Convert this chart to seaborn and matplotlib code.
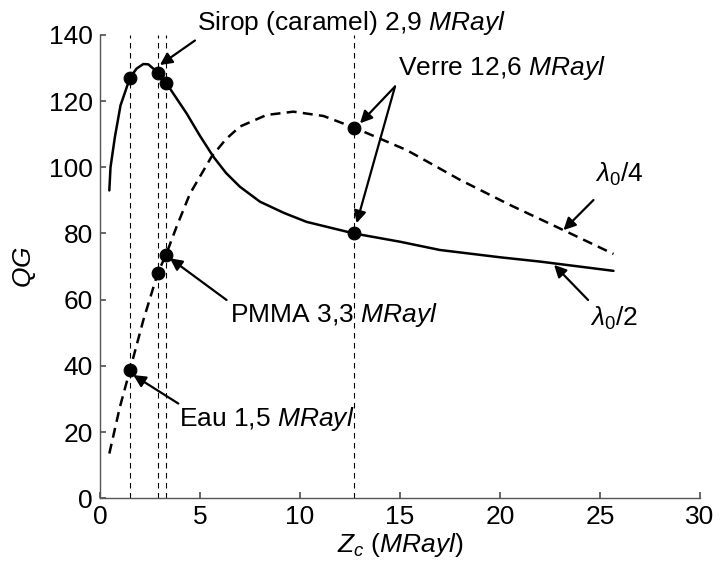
import pandas as pd
import matplotlib
matplotlib.use("Agg")
import matplotlib.pyplot as plt
import seaborn as sns

# lambda0/2 curve (solid)
half_z = [0.47, 0.53, 0.75, 1.03, 1.5, 1.83, 2.17, 2.42, 2.9, 3.3, 4.33, 5.0, 5.67, 6.3,
          7.0, 8.0, 9.2, 10.33, 12.7, 15.0, 17.0, 20.0, 22.0, 25.67]
half_qg = [93.0, 100.0, 109.2, 118.7, 127.0, 129.8, 131.2, 131.1, 128.6, 125.6, 116.3, 109.5, 103.2, 98.3,
           94.1, 89.6, 86.2, 83.5, 80.0, 77.5, 75.0, 72.8, 71.5, 68.7]

# lambda0/4 curve (dashed)
quarter_z = [0.47, 1.0, 1.5, 2.17, 2.9, 3.3, 3.83, 4.5, 5.58, 6.3, 7.0, 8.33, 9.67, 11.17,
             12.7, 15.33, 18.0, 20.5, 23.17, 25.67]
quarter_qg = [13.5, 27.6, 38.7, 53.8, 68.2, 73.5, 82.0, 92.0, 103.2, 108.5, 112.3, 115.8, 116.8, 115.5,
              112.0, 105.2, 96.2, 88.6, 81.0, 73.8]

# materials (Zc in MRayl) and their points on each curve
mat_z = [1.5, 2.9, 3.3, 12.7]
mat_half = [127.0, 128.6, 125.6, 80.0]
mat_quarter = [38.7, 68.2, 73.5, 112.0]

sns.set_theme(style="ticks")
plt.rcParams['font.family'] = ['Liberation Sans', 'DejaVu Sans']
plt.rcParams['mathtext.fontset'] = 'custom'
plt.rcParams['mathtext.rm'] = 'Liberation Sans'
plt.rcParams['mathtext.it'] = 'Liberation Sans:italic'
plt.rcParams['text.color'] = 'black'
plt.rcParams['axes.labelcolor'] = 'black'

fig = plt.figure(figsize=(7.24, 5.72), dpi=100)
ax = fig.add_axes([0.138, 0.129, 0.829, 0.81])

# vertical guides at each material
for z in mat_z:
    ax.plot([z, z], [0, 140], color='black', lw=0.8, ls=(0, (5, 4)), zorder=1)

half_df = pd.DataFrame({'Zc': half_z, 'QG': half_qg})
quarter_df = pd.DataFrame({'Zc': quarter_z, 'QG': quarter_qg})
sns.lineplot(data=half_df, x='Zc', y='QG', sort=False, estimator=None,
             color='black', lw=1.8, ax=ax)
sns.lineplot(data=quarter_df, x='Zc', y='QG', sort=False, estimator=None,
             color='black', lw=1.8, ls=(0, (4, 2.5)), ax=ax)

pts = pd.DataFrame({'Zc': mat_z + mat_z, 'QG': mat_half + mat_quarter})
sns.scatterplot(data=pts, x='Zc', y='QG', color='black', s=85,
                edgecolor='black', zorder=5, ax=ax)

# annotations
arrow = dict(arrowstyle='-|>', color='black', lw=1.6, mutation_scale=18,
             shrinkA=0, shrinkB=0)
fs = 19
ax.annotate('', xy=(3.0, 130.9), xytext=(4.75, 138.3), arrowprops=arrow)
ax.text(4.83, 143.5, r'Sirop (caramel) 2,9 $MRayl$', fontsize=fs, va='center',
        clip_on=False)
ax.annotate('', xy=(13.0, 113.3), xytext=(14.75, 124.4), arrowprops=arrow)
ax.annotate('', xy=(12.83, 83.1), xytext=(14.75, 124.4), arrowprops=arrow)
ax.text(14.9, 129.9, r'Verre 12,6 $MRayl$', fontsize=fs, va='center')
ax.annotate('', xy=(3.5, 72.5), xytext=(6.33, 59.9), arrowprops=arrow)
ax.text(6.5, 55.3, r'PMMA 3,3 $MRayl$', fontsize=fs, va='center')
ax.annotate('', xy=(1.67, 37.2), xytext=(3.92, 28.6), arrowprops=arrow)
ax.text(3.97, 23.8, r'Eau 1,5 $MRayl$', fontsize=fs, va='center')
ax.annotate('', xy=(23.17, 81.0), xytext=(24.67, 90.1), arrowprops=arrow)
ax.text(24.75, 97.7, r'$\lambda_0$/4', fontsize=fs, va='center')
ax.annotate('', xy=(22.7, 70.5), xytext=(24.4, 59.9), arrowprops=arrow)
ax.text(24.5, 54.3, r'$\lambda_0$/2', fontsize=fs, va='center')

ax.set_xlim(0, 30)
ax.set_ylim(0, 140)
ax.set_xticks(range(0, 31, 5))
ax.set_yticks(range(0, 141, 20))
ax.tick_params(direction='in', labelsize=fs, length=4, pad=5, color='#555555',
               labelcolor='black')
sns.despine(ax=ax)
for s in ('left', 'bottom'):
    ax.spines[s].set_color('#555555')
    ax.spines[s].set_linewidth(1.0)
ax.set_xlabel(r'$Z_c$ ($MRayl$)', fontsize=fs, labelpad=1)
ax.set_ylabel(r'$QG$', fontsize=fs, labelpad=8)

fig.savefig('out.png', dpi=100)
plt.close(fig)
